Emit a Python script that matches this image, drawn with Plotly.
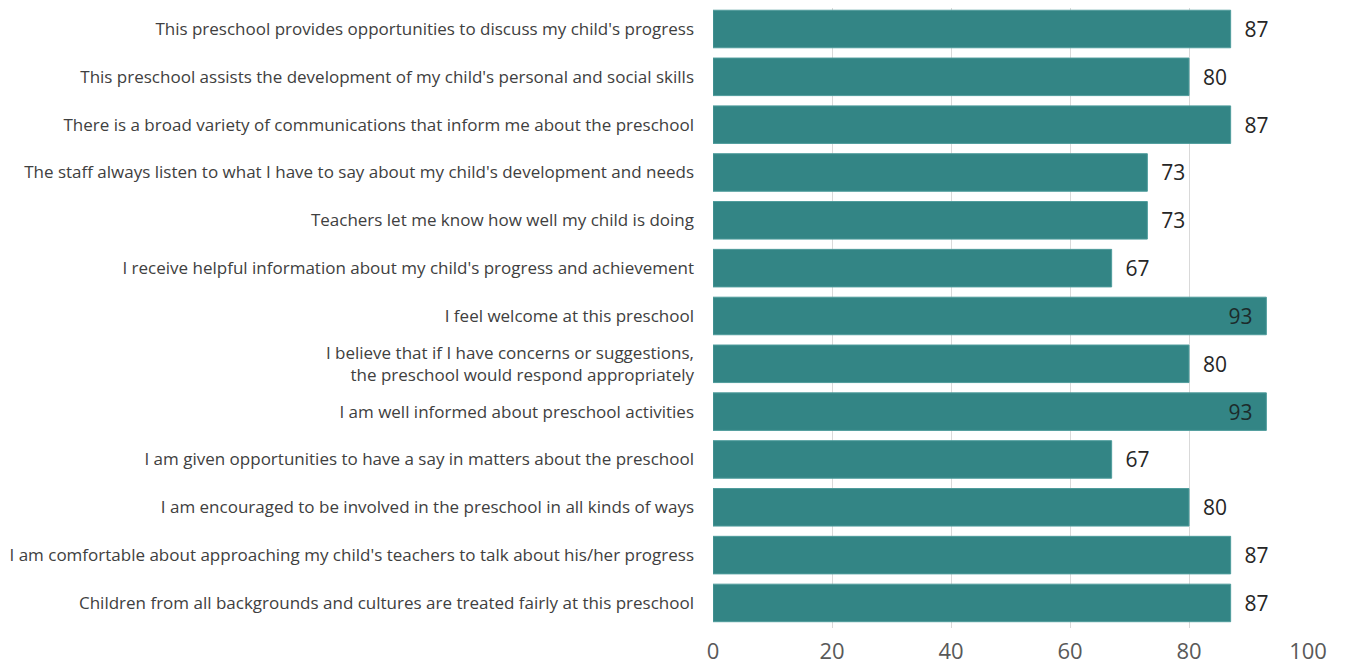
import plotly.graph_objects as go

categories = [
    "This preschool provides opportunities to discuss my child's progress",
    "This preschool assists the development of my child's personal and social skills",
    "There is a broad variety of communications that inform me about the preschool",
    "The staff always listen to what I have to say about my child's development and needs",
    "Teachers let me know how well my child is doing",
    "I receive helpful information about my child's progress and achievement",
    "I feel welcome at this preschool",
    "I believe that if I have concerns or suggestions,<br>the preschool would respond appropriately",
    "I am well informed about preschool activities",
    "I am given opportunities to have a say in matters about the preschool",
    "I am encouraged to be involved in the preschool in all kinds of ways",
    "I am comfortable about approaching my child's teachers to talk about his/her progress",
    "Children from all backgrounds and cultures are treated fairly at this preschool",
]
values = [87, 80, 87, 73, 73, 67, 93, 80, 93, 67, 80, 87, 87]
x_ticks = [0, 20, 40, 60, 80, 100]

NB = "\u00a0"
positions = ["inside" if v > 90 else "outside" for v in values]
labels = [(f"{v}{NB}{NB}" if v > 90 else f"{NB}{NB}{v}") for v in values]

fig = go.Figure(go.Bar(
    y=categories,
    x=values,
    orientation="h",
    marker=dict(color="#338585", line=dict(color="#4f9c9c", width=1)),
    text=labels,
    textposition=positions,
    insidetextanchor="end",
    textfont=dict(family="Open Sans", size=21, color="#262626"),
    insidetextfont=dict(family="Open Sans", size=21, color="#1c2b2b"),
    outsidetextfont=dict(family="Open Sans", size=21, color="#262626"),
    cliponaxis=False,
))

# page body adds an 8px offset; figure coordinates compensate
fig.update_layout(
    width=1340, height=658,
    margin=dict(l=705, r=40, t=0, b=38, autoexpand=False),
    paper_bgcolor="white",
    plot_bgcolor="white",
    bargap=0.215,
    showlegend=False,
    font=dict(family="Open Sans", color="#404040"),
)
fig.update_xaxes(
    range=[0, 100],
    tickvals=x_ticks,
    ticktext=[str(t) for t in x_ticks],
    showgrid=True, gridcolor="#d9d9d9", gridwidth=1,
    zeroline=False,
    showline=False,
    automargin=False,
    ticks="outside", ticklen=4, tickcolor="rgba(0,0,0,0)",
    tickfont=dict(family="Open Sans", size=22, color="#595959"),
)
fig.update_yaxes(
    range=[12.524, -0.439],
    categoryorder="array", categoryarray=categories,
    showgrid=False, showline=False, zeroline=False,
    automargin=False,
    ticklabelstandoff=18,
    tickfont=dict(family="Open Sans", size=17, color="#404040"),
)

fig.write_html("out.html")
